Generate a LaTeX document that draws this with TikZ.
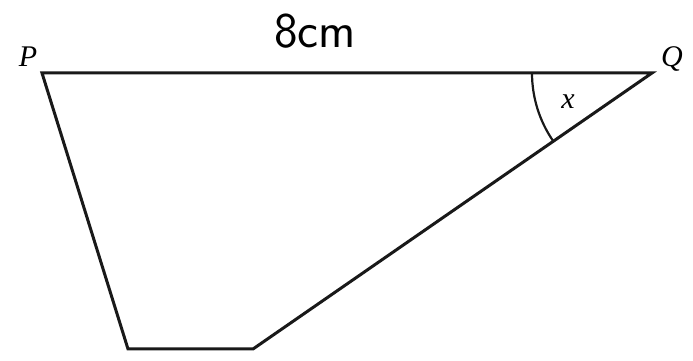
\documentclass[tikz,border=0pt]{standalone}
\usepackage{fontspec}
\newfontfamily\timesfont{Liberation Serif}
\begin{document}
\begin{tikzpicture}[x=1pt,y=1pt,
  edge/.style={line width=3pt,line join=miter,black!90},
  anglearc/.style={line width=2.2pt,black!90},
  vlabel/.style={font=\timesfont\itshape\fontsize{30}{34}\selectfont,inner sep=0pt}]
\useasboundingbox (0,0) rectangle (693,361);
\coordinate (P) at (42,288);
\coordinate (Q) at (652,288);
\coordinate (C) at (253,12);
\coordinate (D) at (128,12);
\draw[edge] (P) -- (Q) -- (C) -- (D) -- cycle;
\draw[anglearc] (Q) ++(180:120) arc[start angle=180,end angle=214.67,radius=120];
\node[vlabel] (lp) at (28,304) {P};
\node[vlabel] (lq) at (672,302) {Q};
\node[vlabel] (lx) at (568,259) {x};
\node[font=\sffamily\fontsize{50}{56}\selectfont,inner sep=0pt] (len) at (315,330) {8cm};
\end{tikzpicture}
\end{document}
